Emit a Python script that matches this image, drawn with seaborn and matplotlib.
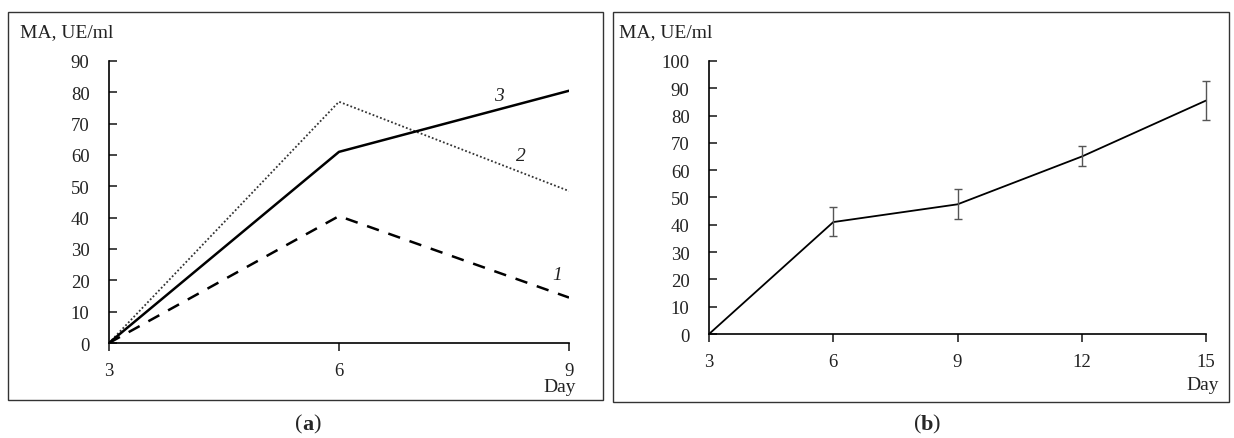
import matplotlib
matplotlib.use("Agg")
import matplotlib.pyplot as plt
import matplotlib.patches as mpatches
import seaborn as sns
import pandas as pd
import numpy as np

# ---- data ----
days_a = [3, 6, 9]
series1 = [0, 40.5, 14.5]   # dashed
series2 = [0, 77, 48.5]     # dotted
series3 = [0, 61, 80.5]     # solid
curve_labels = ["1", "2", "3"]
label_pos_x = [8.85, 8.37, 8.08]
label_pos_y = [22, 59.7, 79]

days_b = [3, 6, 9, 12, 15]
ma_b = [0, 41, 47.5, 65, 85.5]
err_low = [0, 5, 5.5, 3.5, 7]
err_high = [0, 5.5, 5.5, 4, 7]

yticks_a = list(range(0, 91, 10))
yticks_b = list(range(0, 101, 10))
xticks_a = [3, 6, 9]
xticks_b = [3, 6, 9, 12, 15]

sns.set_style("white")
plt.rcParams['font.family'] = ['Liberation Serif', 'DejaVu Serif']

fig = plt.figure(figsize=(12.34, 4.39), dpi=100)

# frames
fig.patches.append(mpatches.Rectangle((0.0065, 0.0866), 0.482, 0.884, transform=fig.transFigure,
                                      fill=False, edgecolor='#333333', linewidth=1.0))
fig.patches.append(mpatches.Rectangle((0.4968, 0.082), 0.4992, 0.888, transform=fig.transFigure,
                                      fill=False, edgecolor='#333333', linewidth=1.0))

axA = fig.add_axes([0.0883, 0.2164, 0.3728, 0.6424])
axB = fig.add_axes([0.5746, 0.2369, 0.4027, 0.6219])

dfa = pd.DataFrame({"day": days_a * 3,
                    "ma": series1 + series2 + series3,
                    "curve": ["1"] * 3 + ["2"] * 3 + ["3"] * 3})
sns.lineplot(data=dfa[dfa.curve == "1"], x="day", y="ma", ax=axA, color="black",
             linewidth=1.8, linestyle=(0, (5, 4)))
sns.lineplot(data=dfa[dfa.curve == "2"], x="day", y="ma", ax=axA, color="#333333",
             linewidth=1.3, linestyle=(0, (1, 1.2)))
sns.lineplot(data=dfa[dfa.curve == "3"], x="day", y="ma", ax=axA, color="black",
             linewidth=1.8, linestyle="-")
for t, lx, ly in zip(curve_labels, label_pos_x, label_pos_y):
    axA.text(lx, ly, t, fontsize=14, style='italic', color='#222222', ha='center', va='center')

dfb = pd.DataFrame({"day": days_b, "ma": ma_b})
sns.lineplot(data=dfb, x="day", y="ma", ax=axB, color="black", linewidth=1.3)
eb = axB.errorbar(days_b[1:], ma_b[1:], yerr=[err_low[1:], err_high[1:]], fmt='none',
                  ecolor='#555555', elinewidth=1.0, capsize=3, capthick=1.0)
for art in eb.lines[1] + eb.lines[2]:
    art.set_clip_on(False)
for art in eb.lines[2]:
    art.set_clip_on(False)

for ax, xt, yt, ymax, xr in [(axA, xticks_a, yticks_a, 90, (3, 9)),
                              (axB, xticks_b, yticks_b, 100, (3, 15))]:
    ax.set_xlim(*xr)
    ax.set_ylim(0, ymax)
    ax.set_xticks(xt)
    ax.set_yticks(yt)
    ax.set_xlabel("")
    ax.set_ylabel("")
    for s in ["top", "right"]:
        ax.spines[s].set_visible(False)
    for s in ["left", "bottom"]:
        ax.spines[s].set_color("black")
        ax.spines[s].set_linewidth(1.2)
    ax.tick_params(axis='y', direction='in', length=6, width=1.2, pad=14, labelsize=13.5, left=True)
    ax.tick_params(axis='x', direction='out', length=6, width=1.2, pad=8, labelsize=13.5, bottom=True)
    ax.set_facecolor('none')
    for lbl in ax.get_xticklabels() + ax.get_yticklabels():
        lbl.set_color('#222222')

# axis texts
fig.text(20 / 1234, 1 - 33 / 439, "MA, UE/ml", fontsize=14, ha='left', va='center', color='#222222')
fig.text(619 / 1234, 1 - 33 / 439, "MA, UE/ml", fontsize=14, ha='left', va='center', color='#222222')
fig.text(576 / 1234, 1 - 388 / 439, "Day", fontsize=14, ha='right', va='center', color='#222222')
fig.text(1219 / 1234, 1 - 386 / 439, "Day", fontsize=14, ha='right', va='center', color='#222222')
fig.text(302 / 1234, 1 - 425 / 439, "(", fontsize=16, ha='right', va='center')
fig.text(302 / 1234, 1 - 425 / 439, "a", fontsize=16, ha='left', va='center', fontweight='bold')
fig.text(921 / 1234, 1 - 425 / 439, "(", fontsize=16, ha='right', va='center')
fig.text(921 / 1234, 1 - 425 / 439, "b", fontsize=16, ha='left', va='center', fontweight='bold')
fig.text(313 / 1234, 1 - 425 / 439, ")", fontsize=16, ha='left', va='center')
fig.text(932 / 1234, 1 - 425 / 439, ")", fontsize=16, ha='left', va='center')

fig.savefig("out.png", dpi=100)
